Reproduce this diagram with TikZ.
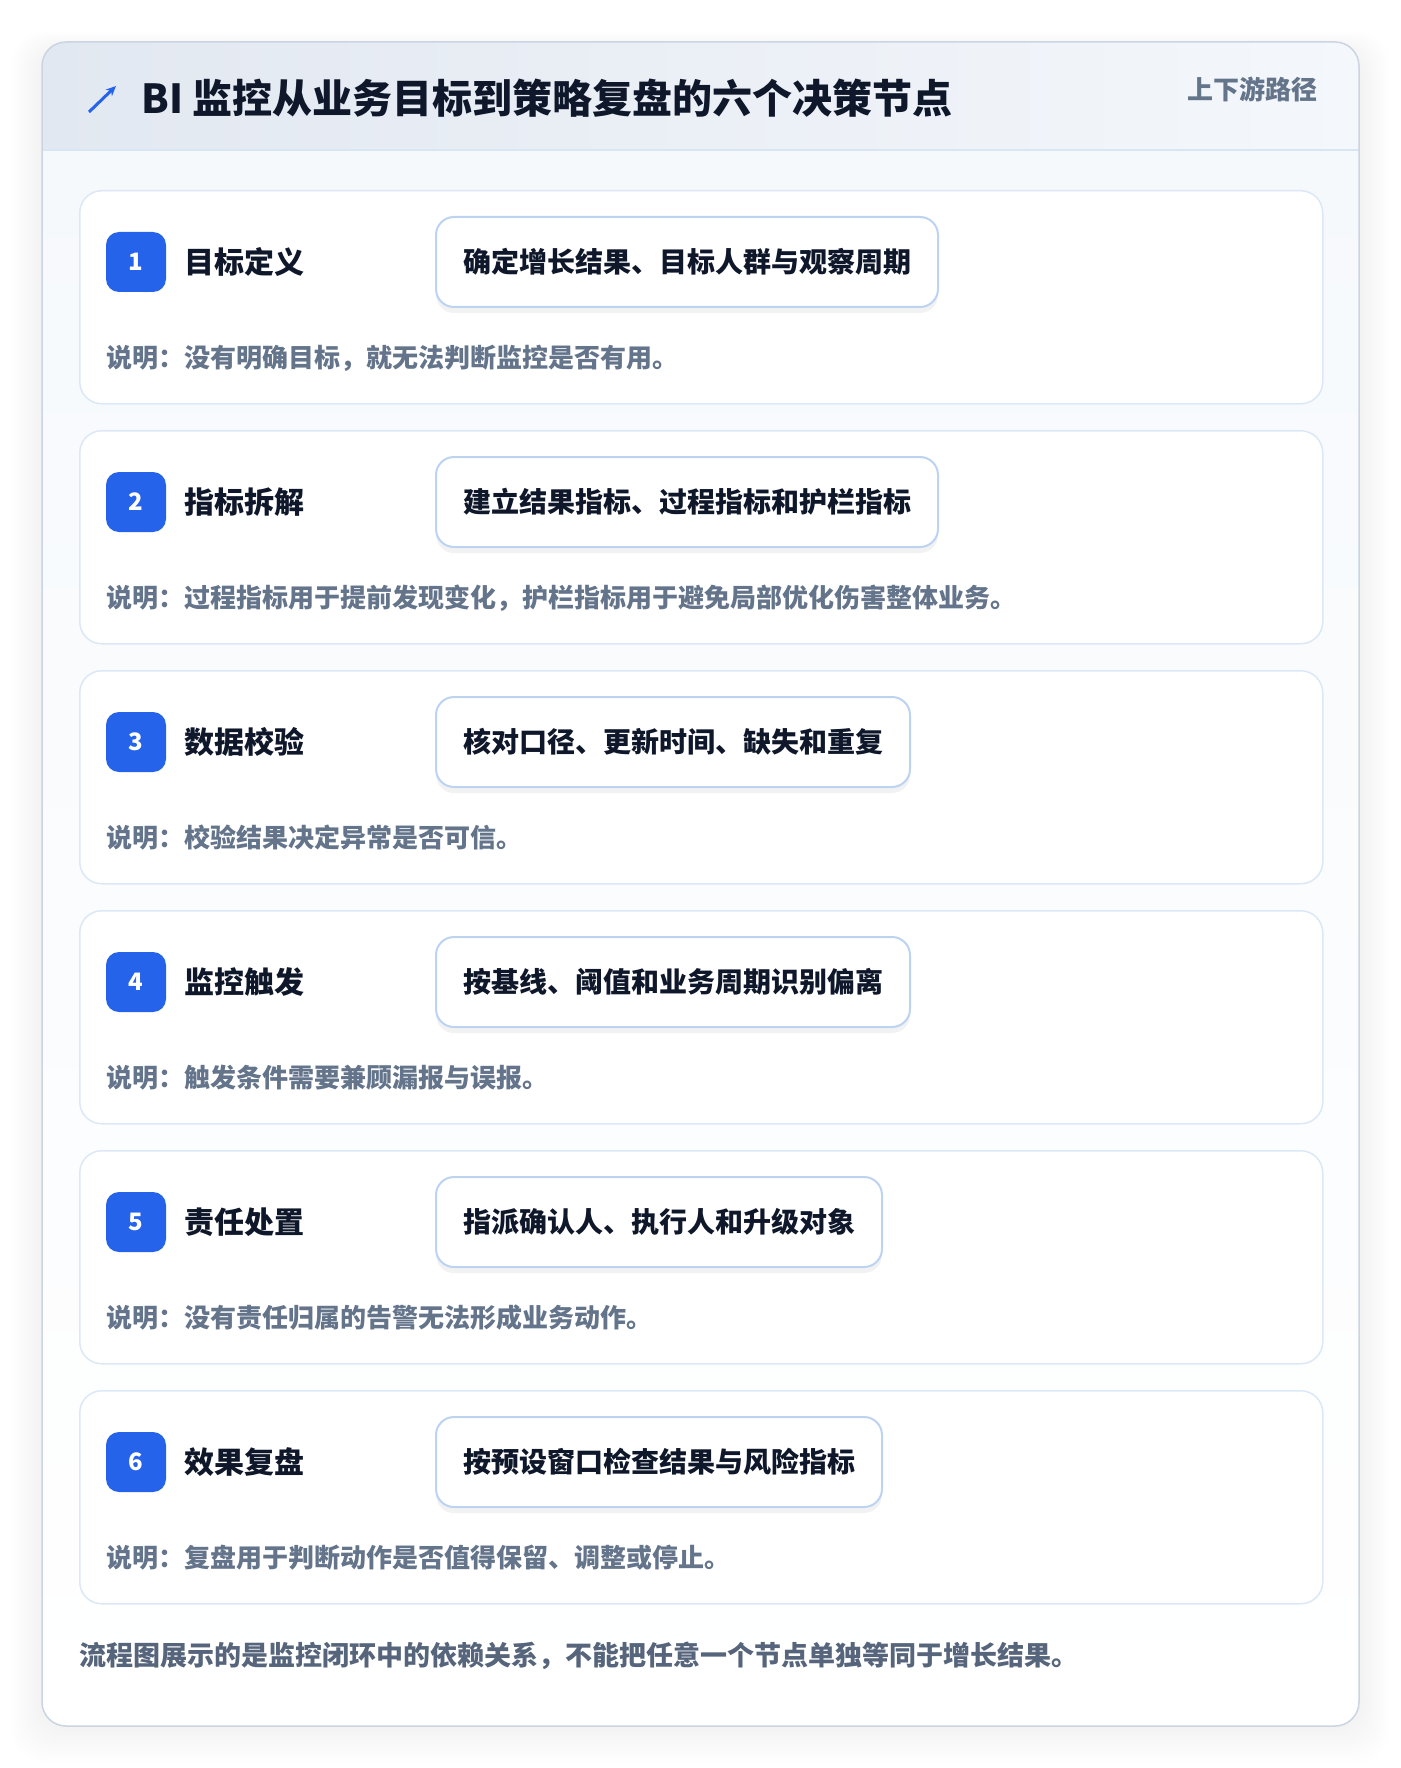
\documentclass[tikz,border=0pt]{standalone}
\usepackage{fontspec}
\setmainfont{Noto Sans CJK SC}
\usetikzlibrary{positioning}
\usetikzlibrary{shadows}
\usetikzlibrary{arrows.meta}

\definecolor{brand}{HTML}{2563EB}
\definecolor{ink}{HTML}{0F172A}
\definecolor{muted}{HTML}{64748B}
\definecolor{footgray}{HTML}{56657B}
\definecolor{frame}{HTML}{CBD5E1}
\definecolor{bodybg}{HTML}{F6F9FC}
\definecolor{headl}{HTML}{E2E8F1}
\definecolor{headr}{HTML}{F4F7FB}
\definecolor{rule}{HTML}{D8E5F5}
\definecolor{cardline}{HTML}{DCE8F8}
\definecolor{boxline}{HTML}{BCD3F2}

\begin{document}
\begin{tikzpicture}
  [x=1pt, y=-1pt,
   stepcard/.style={rectangle, draw=cardline, line width=1.5pt, fill=white, rounded corners=22pt,
     minimum width=1243pt, minimum height=213pt, anchor=north west, inner sep=0pt},
   badge/.style={rectangle, fill=brand, text=white, rounded corners=13pt, minimum size=60pt,
     inner sep=0pt, font=\bfseries\fontsize{24}{24}\selectfont},
   steptitle/.style={inner sep=0pt, text=ink, font=\bfseries\fontsize{30}{30}\selectfont},
   detail/.style={rectangle, draw=boxline, line width=2pt, fill=white, rounded corners=18pt,
     minimum height=90pt, inner xsep=27pt, anchor=west, text=ink,
     font=\bfseries\fontsize{28}{28}\selectfont,
     drop shadow={shadow xshift=0pt, shadow yshift=-6pt, opacity=0.05, fill=black}},
   note/.style={inner sep=0pt, anchor=west, text=muted, font=\bfseries\fontsize{26}{26}\selectfont}]

  \useasboundingbox (0,0) rectangle (1400,1768);
  \fill[white] (0,0) rectangle (1400,1768);

  % soft shadow of the panel
  \foreach \k in {1,...,12}
    \fill[black, opacity=0.005, rounded corners=30pt]
      (42-2.5*\k, 50-1.5*\k) rectangle (1359+2.5*\k, 1726+3*\k);

  % panel and header
  \begin{scope}
    \clip[rounded corners=24pt] (42,42) rectangle (1359,1726);
    \shade[top color=bodybg, bottom color=white] (42,150) rectangle (1359,1726);
    \shade[left color=headl, right color=headr] (42,42) rectangle (1359,150);
  \end{scope}
  \draw[rule, line width=2pt] (42,150) -- (1359,150);
  \draw[frame, line width=1.5pt, rounded corners=24pt] (42,42) rectangle (1359,1726);

  \draw[brand, line width=3pt, -{Stealth[length=10pt, width=9pt]}] (89,112) -- (116,86);
  \node (head) [anchor=west, inner sep=0pt, text=ink, font=\bfseries\fontsize{40}{40}\selectfont]
    at (141,98) {BI 监控从业务目标到策略复盘的六个决策节点};
  \node (route) [anchor=east, inner sep=0pt, text=muted, font=\bfseries\fontsize{26}{26}\selectfont]
    at (1318,89) {上下游路径};

  % step 1
  \node (c1) [stepcard] at (79,190) {};
  \node (b1) [badge] at (136,262) {1};
  \node (t1) [steptitle, right=18pt of b1] {目标定义};
  \node (d1) [detail] at (435,262) {确定增长结果、目标人群与观察周期};
  \node (n1) [note] at (106,358) {说明：没有明确目标，就无法判断监控是否有用。};

  % step 2
  \node (c2) [stepcard] at (79,430) {};
  \node (b2) [badge] at (136,502) {2};
  \node (t2) [steptitle, right=18pt of b2] {指标拆解};
  \node (d2) [detail] at (435,502) {建立结果指标、过程指标和护栏指标};
  \node (n2) [note] at (106,598) {说明：过程指标用于提前发现变化，护栏指标用于避免局部优化伤害整体业务。};

  % step 3
  \node (c3) [stepcard] at (79,670) {};
  \node (b3) [badge] at (136,742) {3};
  \node (t3) [steptitle, right=18pt of b3] {数据校验};
  \node (d3) [detail] at (435,742) {核对口径、更新时间、缺失和重复};
  \node (n3) [note] at (106,838) {说明：校验结果决定异常是否可信。};

  % step 4
  \node (c4) [stepcard] at (79,910) {};
  \node (b4) [badge] at (136,982) {4};
  \node (t4) [steptitle, right=18pt of b4] {监控触发};
  \node (d4) [detail] at (435,982) {按基线、阈值和业务周期识别偏离};
  \node (n4) [note] at (106,1078) {说明：触发条件需要兼顾漏报与误报。};

  % step 5
  \node (c5) [stepcard] at (79,1150) {};
  \node (b5) [badge] at (136,1222) {5};
  \node (t5) [steptitle, right=18pt of b5] {责任处置};
  \node (d5) [detail] at (435,1222) {指派确认人、执行人和升级对象};
  \node (n5) [note] at (106,1318) {说明：没有责任归属的告警无法形成业务动作。};

  % step 6
  \node (c6) [stepcard] at (79,1390) {};
  \node (b6) [badge] at (136,1462) {6};
  \node (t6) [steptitle, right=18pt of b6] {效果复盘};
  \node (d6) [detail] at (435,1462) {按预设窗口检查结果与风险指标};
  \node (n6) [note] at (106,1558) {说明：复盘用于判断动作是否值得保留、调整或停止。};

  \node (foot) [anchor=west, inner sep=0pt, text=footgray, font=\bfseries\fontsize{27}{27}\selectfont]
    at (79,1656) {流程图展示的是监控闭环中的依赖关系，不能把任意一个节点单独等同于增长结果。};
\end{tikzpicture}
\end{document}
